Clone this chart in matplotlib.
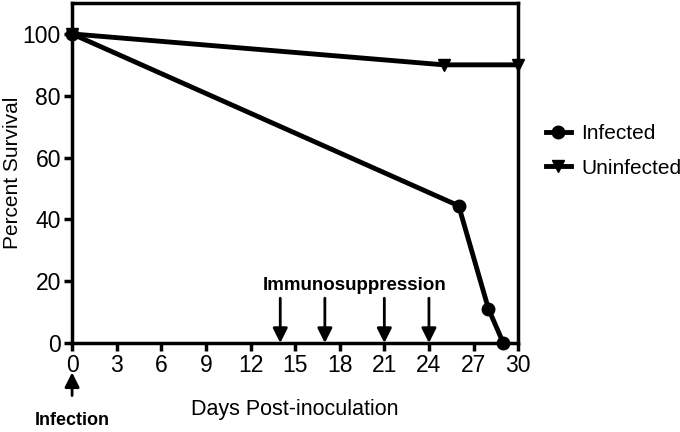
import matplotlib.pyplot as plt

plt.rcParams['font.family'] = ['Liberation Sans', 'DejaVu Sans']

# survival data
days_infected = [0, 26, 28, 29]
surv_infected = [100, 44.4, 11.1, 0]
days_uninfected = [0, 25, 30]
surv_uninfected = [100, 90, 90]

immuno_days = [14, 17, 21, 24]
xticks = [0, 3, 6, 9, 12, 15, 18, 21, 24, 27, 30]
yticks = [0, 20, 40, 60, 80, 100]

fig = plt.figure(figsize=(6.8, 4.32), dpi=100)
ax = fig.add_axes([0.106, 0.206, 0.656, 0.787])

ax.plot(days_infected, surv_infected, color='black', lw=3.5, marker='o',
        markersize=9, clip_on=False, zorder=3, label='Infected')
ax.plot(days_uninfected, surv_uninfected, color='black', lw=3.5, marker='v',
        markersize=9, clip_on=False, zorder=3, label='Uninfected')

ax.set_xlim(0, 30)
ax.set_ylim(0, 110)
ax.set_xticks(xticks)
ax.set_yticks(yticks)
ax.tick_params(labelsize=16.5, width=2.5, length=6, direction='out', pad=2)
for s in ax.spines.values():
    s.set_linewidth(2.5)

ax.set_xlabel('Days Post-inoculation', fontsize=15.5, labelpad=16)
ax.set_ylabel('Percent Survival', fontsize=15)
ax.yaxis.set_label_coords(-0.112, 0.5)

# immunosuppression arrows
for d in immuno_days:
    ax.annotate('', xy=(d, 0), xytext=(d, 14.5),
                arrowprops=dict(arrowstyle='-|>', color='black', lw=2,
                                mutation_scale=22, shrinkA=0, shrinkB=0))
ax.text(19, 18.5, 'Immunosuppression', fontsize=13.5, fontweight='bold',
        ha='center', va='center')

# infection arrow below axis
ax.annotate('', xy=(0, -9.5), xytext=(0, -17),
            arrowprops=dict(arrowstyle='-|>', color='black', lw=2,
                            mutation_scale=22, shrinkA=0, shrinkB=0),
            annotation_clip=False)
ax.text(0, -25, 'Infection', fontsize=13, fontweight='bold',
        ha='center', va='center', clip_on=False)

ax.legend(loc='center left', bbox_to_anchor=(1.02, 0.565), frameon=False,
          fontsize=15, handlelength=1.2, handletextpad=0.5, labelspacing=0.75)

fig.savefig('out.png', dpi=100)
